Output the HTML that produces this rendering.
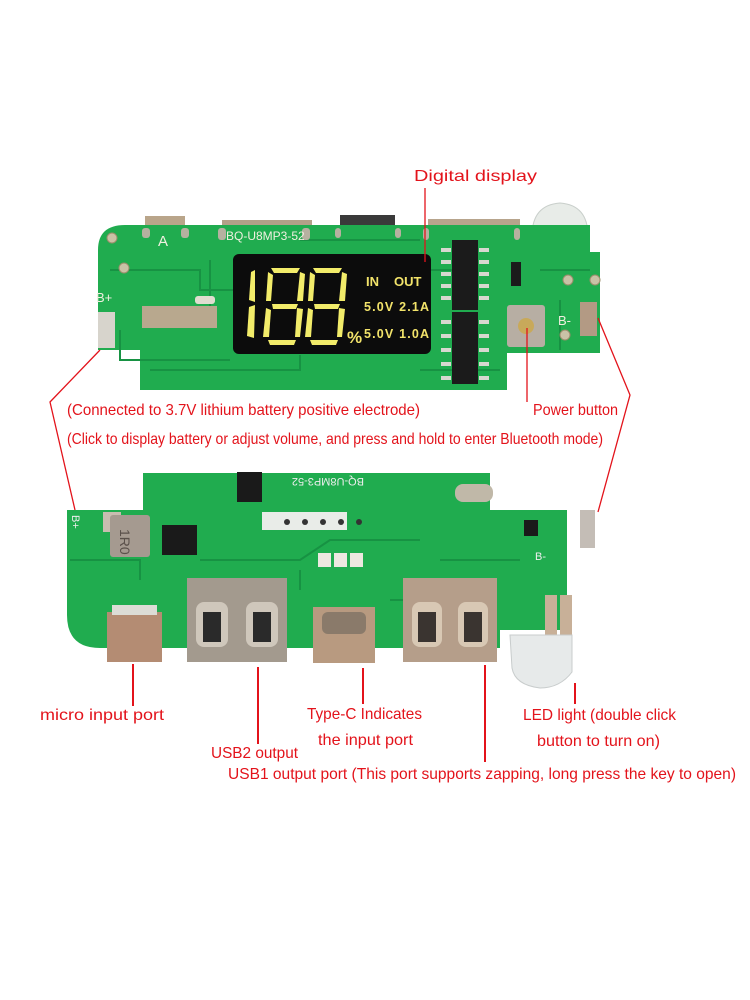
<!DOCTYPE html>
<html><head><meta charset="utf-8"><style>
html,body{margin:0;padding:0;background:#fff;}
svg{display:block;}
text{font-family:"Liberation Sans",sans-serif;}
.r{fill:#e3131b;font-size:16px;}
</style></head><body>
<svg width="750" height="1000" viewBox="0 0 750 1000" xmlns="http://www.w3.org/2000/svg">
<rect width="750" height="1000" fill="#fff"/>

<!-- TOP BOARD -->
<rect x="145" y="216" width="40" height="14" fill="#b9a58a"/>
<rect x="222" y="220" width="90" height="10" fill="#b3a088"/>
<rect x="340" y="215" width="55" height="15" fill="#3a3a3a"/>
<rect x="428" y="219" width="92" height="11" fill="#b7a48c"/>
<path d="M532 236 Q532 205 560 203 Q588 205 588 236 Z" fill="#e8ece8" stroke="#c9cfcb"/>
<path d="M112 225 H590 V252 H600 V353 H507 V390 H140 V350 H98 V250 Q98 225 125 225 Z" fill="#20ac4f"/>
<g fill="none" stroke="#179243" stroke-width="2">
<path d="M110 270 H200 V290 H235"/><path d="M120 330 V360 H230"/><path d="M150 370 H300 V355"/>
<path d="M430 270 H460"/><path d="M420 370 H500"/><path d="M540 270 H590"/><path d="M560 300 V350"/>
<path d="M300 240 H420"/><path d="M210 260 V310"/>
</g>
<g fill="#c9c2a6" stroke="#9a8d6a"><circle cx="112" cy="238" r="5"/><circle cx="124" cy="268" r="5"/>
<circle cx="568" cy="280" r="5"/><circle cx="595" cy="280" r="5"/><circle cx="565" cy="335" r="5"/></g>
<g fill="#b6b1a0"><rect x="142" y="228" width="8" height="10" rx="3"/><rect x="181" y="228" width="8" height="10" rx="3"/>
<rect x="218" y="228" width="8" height="12" rx="3"/><rect x="302" y="228" width="8" height="12" rx="3"/>
<rect x="335" y="228" width="6" height="10" rx="3"/><rect x="395" y="228" width="6" height="10" rx="3"/>
<rect x="423" y="228" width="6" height="12" rx="3"/><rect x="514" y="228" width="6" height="12" rx="3"/></g>
<text x="158" y="246" font-size="15" fill="#f0f0e0" font-family="Liberation Serif">A</text>
<text x="226" y="240" font-size="12" fill="#f0f0e0" font-family="Liberation Mono">BQ-U8MP3-52</text>
<text x="96" y="302" font-size="13" fill="#f0f0e0" font-family="Liberation Serif">B+</text>
<text x="558" y="325" font-size="13" fill="#f0f0e0" font-family="Liberation Serif">B-</text>
<rect x="98" y="312" width="17" height="36" fill="#d7d4cc"/>
<rect x="580" y="302" width="17" height="34" fill="#b39a84"/>
<rect x="142" y="306" width="75" height="22" fill="#b8a88e"/>
<rect x="195" y="296" width="20" height="8" rx="3" fill="#e0ddd0"/>
<rect x="233" y="254" width="198" height="100" rx="6" fill="#0c0c0c"/>
<g fill="#f2ec6a">
<polygon points="251,272 255,270 255,302 249,300"/><polygon points="249,307 255,305 254,338 247,336"/>
<polygon points="271,268 300,268 297,273 274,273"/><polygon points="268,272 273,275 271,301 266,301"/><polygon points="300,272 305,274 303,301 297,301"/>
<polygon points="272,304 298,304 296,309 273,309"/><polygon points="266,308 271,310 269,337 263,337"/><polygon points="297,308 303,309 300,337 295,337"/><polygon points="268,340 296,340 294,345 270,345"/>
<polygon points="313,268 342,268 339,273 316,273"/><polygon points="310,272 315,275 313,301 308,301"/><polygon points="342,272 347,274 345,301 339,301"/>
<polygon points="314,304 340,304 338,309 315,309"/><polygon points="308,308 313,310 311,337 305,337"/><polygon points="339,308 345,309 342,337 337,337"/><polygon points="310,340 338,340 336,345 312,345"/>
</g>
<g fill="#f2e36a" font-weight="bold">
<text x="366" y="286" font-size="13">IN</text><text x="394" y="286" font-size="13">OUT</text>
<text x="364" y="311" font-size="12.5" textLength="65">5.0V 2.1A</text>
<text x="347" y="343" font-size="17">%</text>
<text x="364" y="338" font-size="12.5" textLength="65">5.0V 1.0A</text>
</g>
<rect x="452" y="240" width="26" height="70" fill="#1b1b1b"/>
<rect x="452" y="312" width="26" height="72" fill="#1b1b1b"/>
<g fill="#d8d8d0"><rect x="441" y="248" width="10" height="4"/><rect x="441" y="260" width="10" height="4"/><rect x="441" y="272" width="10" height="4"/><rect x="441" y="284" width="10" height="4"/><rect x="441" y="296" width="10" height="4"/>
<rect x="479" y="248" width="10" height="4"/><rect x="479" y="260" width="10" height="4"/><rect x="479" y="272" width="10" height="4"/><rect x="479" y="284" width="10" height="4"/><rect x="479" y="296" width="10" height="4"/>
<rect x="441" y="320" width="10" height="4"/><rect x="441" y="334" width="10" height="4"/><rect x="441" y="348" width="10" height="4"/><rect x="441" y="362" width="10" height="4"/><rect x="441" y="376" width="10" height="4"/>
<rect x="479" y="320" width="10" height="4"/><rect x="479" y="334" width="10" height="4"/><rect x="479" y="348" width="10" height="4"/><rect x="479" y="362" width="10" height="4"/><rect x="479" y="376" width="10" height="4"/></g>
<rect x="511" y="262" width="10" height="24" fill="#1b1b1b"/>
<rect x="507" y="305" width="38" height="42" rx="3" fill="#b7aea3"/>
<circle cx="526" cy="326" r="8" fill="#c8a95a"/>

<!-- BOTTOM BOARD -->
<path d="M143 473 H490 V510 H567 V630 H500 V648 H100 Q67 648 67 615 V510 H143 Z" fill="#20ac4f"/>
<g fill="none" stroke="#179243" stroke-width="2">
<path d="M70 560 H140 V580"/><path d="M200 560 H300 L330 540 H420"/><path d="M440 560 H520"/><path d="M300 590 V570"/><path d="M390 600 H420"/>
</g>
<rect x="103" y="512" width="18" height="20" fill="#c8bdb0"/>
<text x="73" y="526" font-size="11" fill="#eee" transform="rotate(90 78 520)">B+</text>
<rect x="110" y="515" width="40" height="42" rx="3" fill="#a59a90"/>
<text x="122" y="545" font-size="14" fill="#5a504a" transform="rotate(90 129 536)">1R0</text>
<rect x="162" y="525" width="35" height="30" fill="#1a1a1a"/>
<rect x="237" y="472" width="25" height="30" fill="#1a1a1a"/>
<text x="280" y="486" font-size="11" fill="#eee" font-family="Liberation Mono" transform="rotate(180 322 482)">BQ-U8MP3-52</text>
<rect x="455" y="484" width="38" height="18" rx="8" fill="#c0b8a8"/>
<rect x="262" y="512" width="85" height="18" fill="#e9ece8"/>
<g fill="#333"><circle cx="287" cy="522" r="3"/><circle cx="305" cy="522" r="3"/><circle cx="323" cy="522" r="3"/><circle cx="341" cy="522" r="3"/><circle cx="359" cy="522" r="3"/></g>
<g fill="#ece8e0"><rect x="318" y="553" width="13" height="14"/><rect x="334" y="553" width="13" height="14"/><rect x="350" y="553" width="13" height="14"/></g>
<rect x="524" y="520" width="14" height="16" fill="#1a1a1a"/>
<rect x="580" y="510" width="15" height="38" fill="#c4bdb6"/>
<text x="535" y="560" font-size="11" fill="#eee">B-</text>
<rect x="107" y="612" width="55" height="50" fill="#b48c73"/>
<rect x="112" y="605" width="45" height="10" fill="#dcdcd6"/>
<rect x="187" y="578" width="100" height="84" fill="#a39a8e"/>
<rect x="196" y="602" width="32" height="45" rx="8" fill="#cfc7bb"/><rect x="246" y="602" width="32" height="45" rx="8" fill="#cfc7bb"/>
<rect x="203" y="612" width="18" height="30" fill="#2a2a2a"/><rect x="253" y="612" width="18" height="30" fill="#2a2a2a"/>
<rect x="313" y="607" width="62" height="56" fill="#b89a80"/>
<rect x="322" y="612" width="44" height="22" rx="6" fill="#8a7a6a"/>
<rect x="403" y="578" width="94" height="84" fill="#b59e8a"/>
<rect x="412" y="602" width="30" height="45" rx="8" fill="#d8c8b4"/><rect x="458" y="602" width="30" height="45" rx="8" fill="#d8c8b4"/>
<rect x="418" y="612" width="18" height="30" fill="#3a3430"/><rect x="464" y="612" width="18" height="30" fill="#3a3430"/>
<rect x="545" y="595" width="12" height="40" fill="#c8b098"/><rect x="560" y="595" width="12" height="40" fill="#c8b098"/>
<path d="M510 635 H572 V672 Q560 688 540 688 Q515 685 512 668 Z" fill="#e7eaea" stroke="#c8cccc"/>

<!-- RED LINES -->
<g stroke="#e3131b" stroke-width="1.3" fill="none">
<path d="M425 188 V262"/>
<path d="M100 350 L50 402 L75 510"/>
<path d="M598 318 L630 395 L598 512"/>
<path d="M527 328 V402"/>
</g>
<g stroke="#e3131b" stroke-width="2" fill="none">
<path d="M133 664 V706"/><path d="M258 667 V744"/><path d="M363 668 V704"/><path d="M485 665 V762"/><path d="M575 683 V704"/>
</g>

<!-- LABELS -->
<g lengthAdjust="spacingAndGlyphs">
<text class="r" x="414" y="181" textLength="123" lengthAdjust="spacingAndGlyphs">Digital display</text>
<text class="r" x="67" y="415" textLength="353" lengthAdjust="spacingAndGlyphs">(Connected to 3.7V lithium battery positive electrode)</text>
<text class="r" x="533" y="415" textLength="85" lengthAdjust="spacingAndGlyphs">Power button</text>
<text class="r" x="67" y="444" textLength="536" lengthAdjust="spacingAndGlyphs">(Click to display battery or adjust volume, and press and hold to enter Bluetooth mode)</text>
<text class="r" x="40" y="720" textLength="124" lengthAdjust="spacingAndGlyphs">micro input port</text>
<text class="r" x="307" y="719" textLength="115" lengthAdjust="spacingAndGlyphs">Type-C Indicates</text>
<text class="r" x="318" y="745" textLength="95" lengthAdjust="spacingAndGlyphs">the input port</text>
<text class="r" x="523" y="720" textLength="153" lengthAdjust="spacingAndGlyphs">LED light (double click</text>
<text class="r" x="537" y="746" textLength="123" lengthAdjust="spacingAndGlyphs">button to turn on)</text>
<text class="r" x="211" y="758" textLength="87" lengthAdjust="spacingAndGlyphs">USB2 output</text>
<text class="r" x="228" y="779" textLength="508" lengthAdjust="spacingAndGlyphs">USB1 output port (This port supports zapping, long press the key to open)</text>
</g>
</svg>
</body></html>
